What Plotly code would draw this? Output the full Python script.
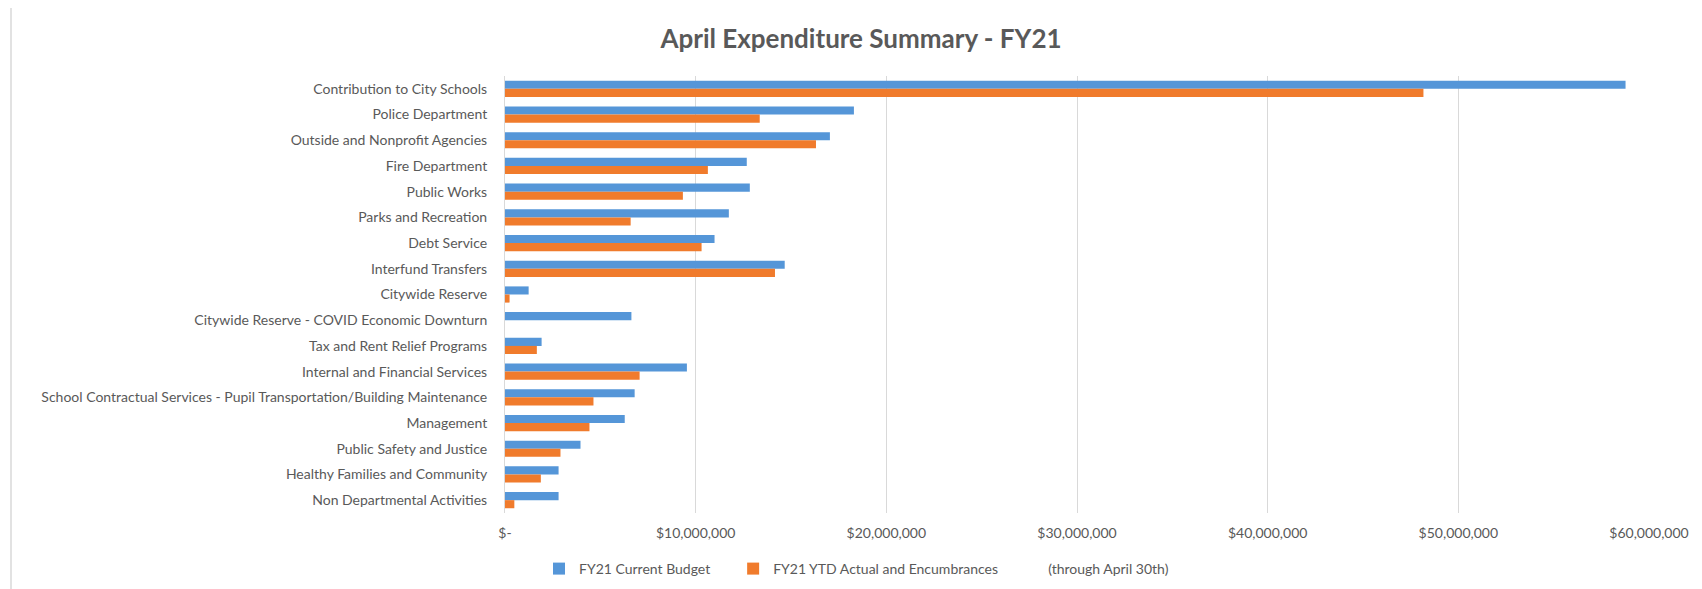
import plotly.graph_objects as go

categories = [
    "Contribution to City Schools",
    "Police Department",
    "Outside and Nonprofit Agencies",
    "Fire Department",
    "Public Works",
    "Parks and Recreation",
    "Debt Service",
    "Interfund Transfers",
    "Citywide Reserve",
    "Citywide Reserve - COVID Economic Downturn",
    "Tax and Rent Relief Programs",
    "Internal and Financial Services",
    "School Contractual Services - Pupil Transportation/Building Maintenance",
    "Management",
    "Public Safety and Justice",
    "Healthy Families and Community",
    "Non Departmental Activities",
]

current_budget = [
    58770000, 18300000, 17040000, 12680000, 12840000, 11740000, 10990000,
    14670000, 1240000, 6630000, 1920000, 9540000, 6800000, 6280000,
    3960000, 2810000, 2810000,
]

ytd_actual = [
    48170000, 13360000, 16310000, 10640000, 9330000, 6590000, 10310000,
    14160000, 240000, 0, 1670000, 7060000, 4640000, 4430000,
    2910000, 1880000, 490000,
]

tick_values = [0, 10000000, 20000000, 30000000, 40000000, 50000000, 60000000]
tick_labels = ["$-", "$10,000,000", "$20,000,000", "$30,000,000",
               "$40,000,000", "$50,000,000", "$60,000,000"]

series_names = [
    "FY21 Current Budget" + "\u00a0" * 5,
    "FY21 YTD Actual and Encumbrances" + "\u00a0" * 14 + "(through April 30th)",
]

FONT = "Lato, Carlito, Calibri, sans-serif"
GREY = "#595959"

# the page body has an 8px default margin; work in page coordinates
OFF = 8
W, H = 1702 - OFF, 589 - OFF


def px(v):
    return v - OFF


L = px(505)
R = W - px(1649)
T = px(76)
B = H - px(513)
PW = W - L - R
PH = H - T - B

fig = go.Figure()
fig.add_trace(go.Bar(
    y=categories, x=current_budget, orientation="h", name=series_names[0],
    marker=dict(color="#5596D8", line=dict(width=0)),
))
fig.add_trace(go.Bar(
    y=categories, x=ytd_actual, orientation="h", name=series_names[1],
    marker=dict(color="#F07B2C", line=dict(width=0)),
))

fig.update_layout(
    width=W, height=H,
    margin=dict(l=L, r=R, t=T, b=B, autoexpand=False),
    paper_bgcolor="white", plot_bgcolor="white",
    barmode="group", bargap=0.37, bargroupgap=0.0,
    font=dict(family=FONT, size=14, color=GREY),
    title=dict(
        text="<b>April Expenditure Summary - FY21</b>",
        x=px(861) / W, xanchor="center", y=1 - px(39) / H, yanchor="middle",
        font=dict(family=FONT, size=26, color=GREY),
    ),
    legend=dict(
        orientation="h", x=(px(539) - L) / PW, xanchor="left",
        y=-(px(569) - px(513)) / PH, yanchor="middle",
        font=dict(family=FONT, size=14, color=GREY),
        itemwidth=30, traceorder="normal",
    ),
    showlegend=True,
)

fig.update_xaxes(
    range=[0, 60000000], tickvals=tick_values, ticktext=tick_labels,
    showgrid=True, gridcolor="#D9D9D9", gridwidth=1,
    zeroline=False, showline=False, ticks="",
    tickfont=dict(family=FONT, size=14, color=GREY),
    ticklabelstandoff=10,
)
fig.update_yaxes(
    autorange="reversed", showgrid=False, showline=True,
    linecolor="#D9D9D9", linewidth=1, ticks="",
    tickfont=dict(family=FONT, size=14, color=GREY),
    ticklabelstandoff=14,
)

# chart frame (Excel chart border)
fig.add_shape(type="rect", xref="paper", yref="paper",
              x0=(px(11) - L) / PW, x1=(W + 20 - L) / PW,
              y0=(PH - (H + 20 - T)) / PH, y1=(PH - (px(7) - T)) / PH,
              line=dict(color="#D9D9D9", width=1.5), layer="below")

fig.write_html("out.html")
